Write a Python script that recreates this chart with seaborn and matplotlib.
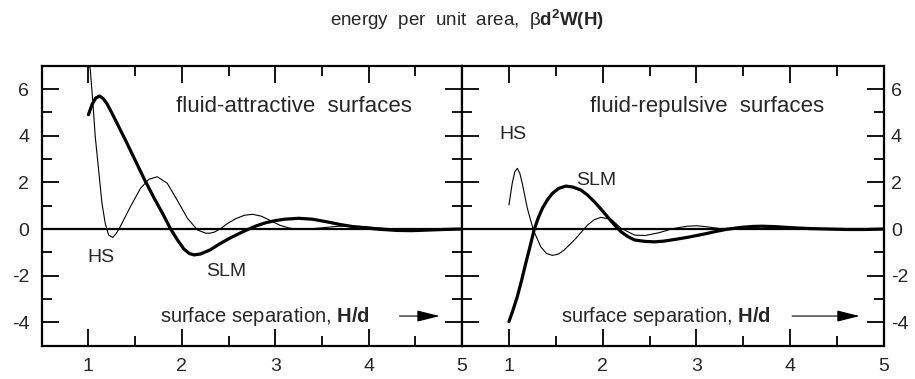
import numpy as np
import pandas as pd
import matplotlib
matplotlib.use("Agg")
import matplotlib.pyplot as plt
import seaborn as sns

# curves, x = H/d
att_slm_x = [1.00, 1.04, 1.08, 1.12, 1.16, 1.20, 1.25, 1.30, 1.40, 1.50, 1.60, 1.70, 1.80, 1.88,
             1.95, 2.02, 2.08, 2.13, 2.20, 2.30, 2.40, 2.50, 2.60, 2.70, 2.80, 2.90, 3.00, 3.10,
             3.25, 3.40, 3.55, 3.70, 3.85, 4.00, 4.15, 4.30, 4.45, 4.60, 4.80, 5.00]
att_slm_y = [4.90, 5.35, 5.62, 5.70, 5.58, 5.36, 4.98, 4.58, 3.78, 2.95, 2.12, 1.35, 0.62, 0.00,
             -0.45, -0.85, -1.05, -1.11, -1.07, -0.90, -0.65, -0.42, -0.22, -0.03, 0.14, 0.27, 0.36, 0.42,
             0.46, 0.42, 0.31, 0.19, 0.09, 0.03, -0.02, -0.06, -0.07, -0.05, -0.02, 0.00]

att_hs_x = [0.99, 1.02, 1.048, 1.073, 1.109, 1.145, 1.18, 1.216, 1.26, 1.30, 1.34, 1.45, 1.557, 1.646,
            1.737, 1.844, 1.95, 2.06, 2.167, 2.256, 2.30, 2.35, 2.42, 2.49, 2.58, 2.67, 2.76, 2.85,
            2.95, 3.05, 3.15, 3.25, 3.35, 3.50, 3.65, 3.80, 3.95, 4.10, 4.30, 4.60, 5.00]
att_hs_y = [7.60, 6.82, 5.39, 3.96, 2.53, 1.10, 0.24, -0.26, -0.36, -0.18, 0.10, 0.96, 1.74, 2.13,
            2.24, 1.96, 1.24, 0.46, -0.04, -0.18, -0.18, -0.13, 0.03, 0.24, 0.45, 0.59, 0.63, 0.55,
            0.36, 0.16, 0.04, -0.01, 0.00, 0.05, 0.11, 0.14, 0.11, 0.05, 0.00, -0.01, 0.00]

rep_slm_x = [1.00, 1.045, 1.089, 1.135, 1.179, 1.225, 1.268, 1.31, 1.357, 1.41, 1.464, 1.53, 1.607, 1.68,
             1.768, 1.84, 1.91, 1.98, 2.05, 2.12, 2.196, 2.27, 2.34, 2.45, 2.55, 2.65, 2.78, 2.90,
             3.00, 3.10, 3.20, 3.30, 3.45, 3.60, 3.70, 3.85, 4.00, 4.20, 4.40, 4.60, 4.80, 5.00]
rep_slm_y = [-3.97, -3.45, -2.90, -2.20, -1.47, -0.75, -0.04, 0.45, 0.89, 1.25, 1.53, 1.74, 1.84, 1.80,
             1.67, 1.45, 1.17, 0.86, 0.53, 0.20, -0.12, -0.33, -0.47, -0.53, -0.55, -0.52, -0.44, -0.36,
             -0.28, -0.20, -0.11, -0.03, 0.06, 0.11, 0.12, 0.10, 0.06, 0.02, 0.00, -0.02, -0.02, 0.00]

rep_hs_x = [1.00, 1.035, 1.062, 1.089, 1.115, 1.142, 1.196, 1.26, 1.339, 1.40, 1.464, 1.53, 1.589, 1.65,
            1.714, 1.838, 1.91, 1.98, 2.09, 2.196, 2.34, 2.45, 2.60, 2.75, 2.90, 3.00, 3.10, 3.25,
            3.40, 3.60, 3.75, 3.90, 4.10, 4.40, 5.00]
rep_hs_y = [1.03, 1.96, 2.45, 2.60, 2.40, 1.96, 0.89, -0.04, -0.76, -1.05, -1.13, -1.07, -0.90, -0.66,
            -0.40, 0.17, 0.40, 0.50, 0.42, 0.03, -0.26, -0.28, -0.16, 0.02, 0.12, 0.14, 0.10, 0.02,
            0.04, 0.12, 0.12, 0.07, 0.02, 0.00, 0.00]

panel_titles = ["fluid-attractive  surfaces", "fluid-repulsive  surfaces"]
title_text = r"energy  per  unit  area,  β$\mathbf{d}^{\mathbf{2}}\mathbf{W(H)}$"
xlabel_text = r"surface separation, $\mathbf{H/d}$"

sns.set_style("ticks")
fam = ["Liberation Sans", "DejaVu Sans"]
plt.rcParams["font.family"] = fam
plt.rcParams["axes.unicode_minus"] = False
plt.rcParams["mathtext.fontset"] = "custom"
plt.rcParams["mathtext.rm"] = "Liberation Sans"
plt.rcParams["mathtext.it"] = "Liberation Sans:italic"
plt.rcParams["mathtext.bf"] = "Liberation Sans:bold"

fig = plt.figure(figsize=(9.15, 3.79), dpi=100)
ax1 = fig.add_axes([0.0456, 0.0879, 0.4594, 0.7388])
ax2 = fig.add_axes([0.505, 0.0879, 0.4611, 0.7388])

curves = [
    (ax1, att_slm_x, att_slm_y, att_hs_x, att_hs_y),
    (ax2, rep_slm_x, rep_slm_y, rep_hs_x, rep_hs_y),
]
for ax, sx, sy, hx, hy in curves:
    ax.axhline(0, color="black", lw=1.6, zorder=1)
    sns.lineplot(x=hx, y=hy, ax=ax, color="black", lw=0.8, sort=False, estimator=None)
    sns.lineplot(x=sx, y=sy, ax=ax, color="black", lw=2.3, sort=False, estimator=None)
    ax.set_xlim(0.5, 5)
    ax.set_ylim(-5, 7)
    ax.set_xticks([1, 2, 3, 4, 5])
    ax.set_xticks(np.arange(1.5, 5, 1.0), minor=True)
    ax.set_yticks([-4, -2, 0, 2, 4, 6])
    ax.set_yticks([-3, -1, 1, 3, 5], minor=True)
    ax.tick_params(which="both", direction="in", top=True, bottom=True, left=True, right=True,
                   width=1.3, labelsize=14, color="black")
    ax.tick_params(which="major", length=12)
    ax.tick_params(which="minor", length=7)
    ax.tick_params(axis="x", pad=9)
    for sp in ax.spines.values():
        sp.set_linewidth(1.6)
        sp.set_color("black")
    ax.set_xlabel("")
    ax.set_ylabel("")

ax1.tick_params(axis="y", labelleft=True, labelright=False, pad=9)
ax2.tick_params(axis="y", labelleft=False, labelright=True, pad=5)

# panel annotations
ax1.text(1.94, 5.27, panel_titles[0], fontsize=16, va="center", ha="left")
ax2.text(1.86, 5.24, panel_titles[1], fontsize=16, va="center", ha="left")
ax1.text(1.13, -1.24, "HS", fontsize=14, ha="center", va="center")
ax1.text(2.47, -1.8, "SLM", fontsize=14, ha="center", va="center")
ax2.text(1.04, 4.03, "HS", fontsize=14, ha="center", va="center")
ax2.text(1.93, 2.1, "SLM", fontsize=14, ha="center", va="center")

ax1.text(1.77, -3.73, xlabel_text, fontsize=14.5, ha="left", va="center")
ax2.text(1.55, -3.73, xlabel_text, fontsize=14.5, ha="left", va="center")
arrow = dict(arrowstyle="-|>,head_length=1.0,head_width=0.25", color="black", lw=0.8,
             mutation_scale=14, shrinkA=0, shrinkB=0)
ax1.annotate("", xy=(4.76, -3.73), xytext=(4.33, -3.73), arrowprops=arrow)
ax2.annotate("", xy=(4.74, -3.73), xytext=(4.02, -3.73), arrowprops=arrow)

fig.text(0.3607, 0.947, title_text, fontsize=13.5, ha="left", va="center")

fig.savefig("out.png", dpi=100)
